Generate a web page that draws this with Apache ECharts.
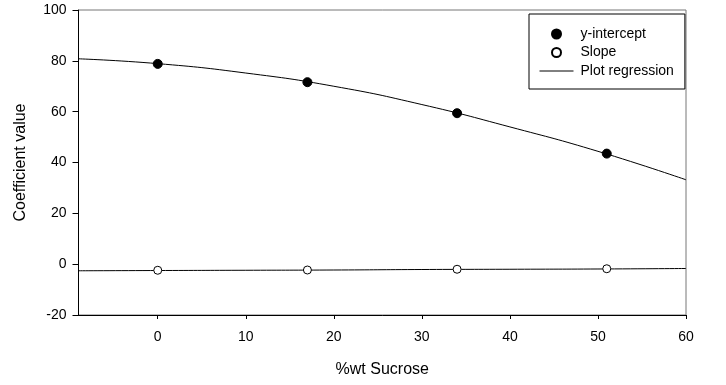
<!DOCTYPE html>
<html>
<head>
<meta charset="utf-8">
<script src="https://cdn.jsdelivr.net/npm/echarts@6/dist/echarts.min.js"></script>
<style>
html,body{margin:0;padding:0;background:#fff;}
#chart{width:726px;height:385px;}
</style>
</head>
<body>
<div id="chart"></div>
<script>
// Data
const sucrose = [0, 17, 34, 51];
const yIntercept = [78.8, 71.6, 59.4, 43.5];
const slope = [-2.4, -2.3, -2.0, -1.8];
const regX = [-9, 0, 10, 20, 30, 40, 50, 60];
const interceptFit = [80.8, 78.9, 75.2, 70.0, 62.8, 54.0, 44.4, 33.2];
const slopeFit = [-2.6, -2.5, -2.4, -2.3, -2.1, -2.0, -1.9, -1.7];
const xTicks = [0, 10, 20, 30, 40, 50, 60];
const seriesNames = ['y-intercept', 'Slope', 'Plot regression'];

const pairs = (xs, ys) => xs.map((x, i) => [x, ys[i]]);
const FONT = 'Liberation Sans, Arial, sans-serif';

const chart = echarts.init(document.getElementById('chart'), null, {renderer: 'canvas'});
chart.setOption({
  animation: false,
  backgroundColor: '#fff',
  textStyle: {fontFamily: FONT},
  grid: {left: 78.5, right: 40, top: 10, bottom: 70, show: true, borderColor: '#777', borderWidth: 1},
  legend: {
    data: seriesNames,
    orient: 'vertical',
    left: 529, top: 14,
    padding: [13, 11, 11, 10],
    itemWidth: 34, itemHeight: 9, itemGap: 4.5,
    borderColor: '#000', borderWidth: 1,
    lineStyle: {width: 1},
    textStyle: {fontFamily: FONT, fontSize: 14, color: '#000', padding: [0, 0, 0, 2]},
    selectedMode: false
  },
  xAxis: {
    type: 'value', min: -9, max: 60,
    name: '%wt Sucrose', nameLocation: 'middle', nameGap: 47,
    nameTextStyle: {fontFamily: FONT, fontSize: 16, color: '#000'},
    axisLine: {show: true, onZero: false, lineStyle: {color: '#000', width: 1}},
    axisTick: {show: true, length: 4, customValues: xTicks, lineStyle: {color: '#000'}},
    axisLabel: {customValues: xTicks, margin: 15, fontFamily: FONT, fontSize: 14, color: '#000'},
    splitLine: {show: false}
  },
  yAxis: {
    type: 'value', min: -20, max: 100, interval: 20,
    name: 'Coefficient value', nameLocation: 'middle', nameGap: 50,
    nameTextStyle: {fontFamily: FONT, fontSize: 16, color: '#000'},
    axisLine: {show: true, onZero: false, lineStyle: {color: '#000', width: 1}},
    axisTick: {show: true, length: 6, lineStyle: {color: '#000'}},
    axisLabel: {margin: 12, fontFamily: FONT, fontSize: 14, color: '#000'},
    splitLine: {show: false}
  },
  series: [
    {name: 'Plot regression', type: 'line', data: pairs(regX, interceptFit), smooth: true,
     symbol: 'none', lineStyle: {color: '#000', width: 1},
     itemStyle: {color: 'rgba(0,0,0,0)', borderWidth: 0}, z: 1},
    {name: 'Plot regression', type: 'line', data: pairs(regX, slopeFit), smooth: true,
     symbol: 'none', lineStyle: {color: '#000', width: 1},
     itemStyle: {color: 'rgba(0,0,0,0)', borderWidth: 0}, z: 1},
    {name: 'y-intercept', type: 'scatter', data: pairs(sucrose, yIntercept), symbol: 'circle', symbolSize: 9,
     itemStyle: {color: '#000', borderColor: '#000', borderWidth: 1, opacity: 1}, z: 3},
    {name: 'Slope', type: 'scatter', data: pairs(sucrose, slope), symbol: 'circle', symbolSize: 8,
     itemStyle: {color: '#fff', borderColor: '#000', borderWidth: 1, opacity: 1}, z: 3}
  ]
});
</script>
</body>
</html>
